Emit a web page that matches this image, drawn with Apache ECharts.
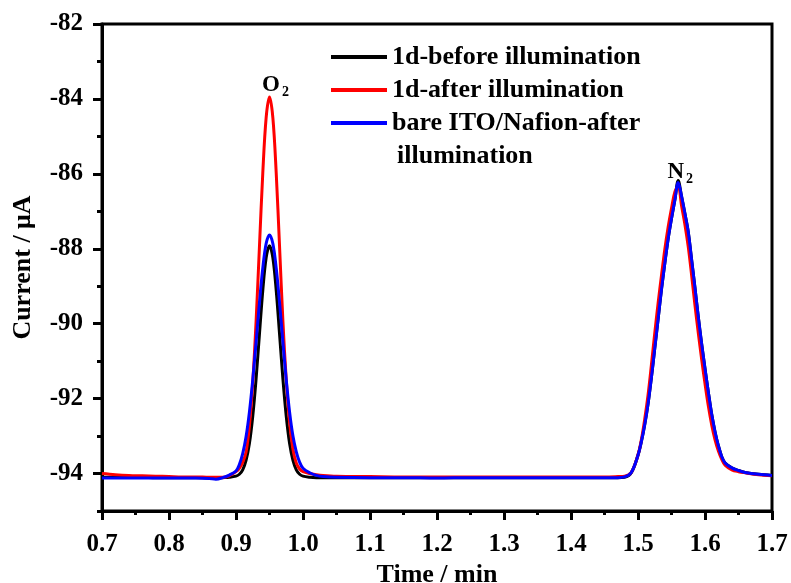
<!DOCTYPE html>
<html>
<head>
<meta charset="utf-8">
<script src="https://cdn.jsdelivr.net/npm/echarts@6/dist/echarts.min.js"></script>
<style>
  html, body { margin: 0; padding: 0; background: #fff; }
  #chart { width: 791px; height: 583px; }
</style>
</head>
<body>
<div id="chart"></div>
<script>
// Sampling times (min), shared by all three traces
const times = [
  0.70, 0.72, 0.74, 0.76, 0.78, 0.80, 0.82, 0.84, 0.86, 0.87, 0.88, 0.89,
  0.90, 0.905, 0.91, 0.915, 0.92, 0.925, 0.93, 0.935, 0.94, 0.945, 0.95,
  0.955, 0.96, 0.965, 0.97, 0.975, 0.98, 0.985, 0.99, 0.995, 1.00,
  1.01, 1.02, 1.03, 1.05, 1.10, 1.15, 1.20, 1.25, 1.30, 1.35, 1.40, 1.45,
  1.47, 1.48, 1.49,
  1.50, 1.505, 1.51, 1.515, 1.52, 1.525, 1.53, 1.535, 1.54, 1.545, 1.55,
  1.555, 1.56, 1.565, 1.57, 1.575, 1.58, 1.585, 1.59, 1.595, 1.60, 1.605,
  1.61, 1.615, 1.62, 1.625, 1.63,
  1.64, 1.65, 1.66, 1.68, 1.70
];

// Current (µA): 1d before illumination
const beforeIllum = [
  -94.10, -94.10, -94.10, -94.10, -94.11, -94.11, -94.11, -94.11, -94.12, -94.12, -94.11, -94.10,
  -94.07, -94.02, -93.90, -93.65, -93.20, -92.47, -91.47, -90.28, -89.11, -88.24, -87.92,
  -88.24, -89.11, -90.28, -91.47, -92.47, -93.20, -93.65, -93.90, -94.02, -94.07,
  -94.10, -94.11, -94.11, -94.11, -94.11, -94.11, -94.11, -94.11, -94.11, -94.11, -94.11, -94.11,
  -94.11, -94.10, -93.98,
  -93.51, -93.15, -92.70, -92.14, -91.44, -90.66, -89.88, -89.09, -88.39, -87.73, -87.19,
  -86.70, -86.18, -86.60, -87.06, -87.55, -88.29, -89.04, -89.82, -90.54, -91.20, -91.83,
  -92.42, -92.89, -93.26, -93.55, -93.72,
  -93.85, -93.92, -93.97, -94.02, -94.05
];

// Current (µA): 1d after illumination
const afterIllum = [
  -94.00, -94.03, -94.05, -94.06, -94.07, -94.08, -94.09, -94.09, -94.10, -94.10, -94.10, -94.06,
  -93.95, -93.86, -93.70, -93.43, -92.73, -91.57, -89.93, -87.94, -85.97, -84.50, -83.95,
  -84.50, -85.97, -87.94, -89.93, -91.50, -92.65, -93.35, -93.72, -93.88, -93.95,
  -94.00, -94.03, -94.05, -94.07, -94.08, -94.09, -94.09, -94.09, -94.09, -94.09, -94.09, -94.09,
  -94.08, -94.07, -93.97,
  -93.50, -93.10, -92.55, -91.90, -91.10, -90.25, -89.45, -88.72, -88.02, -87.42, -86.92,
  -86.48, -86.34, -86.85, -87.35, -87.95, -88.70, -89.50, -90.25, -90.95, -91.60, -92.20,
  -92.70, -93.10, -93.40, -93.62, -93.78,
  -93.90, -93.95, -93.98, -94.03, -94.06
];

// Current (µA): bare ITO/Nafion after illumination
const bareIto = [
  -94.12, -94.12, -94.12, -94.12, -94.12, -94.12, -94.12, -94.12, -94.13, -94.15, -94.11, -94.04,
  -93.93, -93.76, -93.47, -93.02, -92.36, -91.50, -90.49, -89.44, -88.51, -87.86, -87.63,
  -87.86, -88.51, -89.44, -90.49, -91.50, -92.36, -93.00, -93.42, -93.70, -93.86,
  -93.98, -94.05, -94.08, -94.10, -94.11, -94.11, -94.12, -94.11, -94.11, -94.11, -94.11, -94.11,
  -94.11, -94.09, -93.97,
  -93.51, -93.15, -92.70, -92.14, -91.44, -90.66, -89.88, -89.09, -88.39, -87.73, -87.19,
  -86.70, -86.23, -86.60, -87.06, -87.55, -88.29, -89.04, -89.82, -90.54, -91.20, -91.83,
  -92.42, -92.89, -93.26, -93.55, -93.72,
  -93.85, -93.92, -93.97, -94.02, -94.05
];

const seriesNames = ['1d-before illumination', '1d-after illumination', 'bare ITO/Nafion-after illumination'];
const seriesColors = ['#000000', '#ff0000', '#0000ff'];

// Axis ticks
const xTicks = [0.7, 0.8, 0.9, 1.0, 1.1, 1.2, 1.3, 1.4, 1.5, 1.6, 1.7];
const yTicks = [-94, -92, -90, -88, -86, -84, -82];
const yMinorTicks = [-95, -93, -91, -89, -87, -85, -83];

// Gas peak annotations: [label, time, current]
const peakO2 = ['O', 0.95, -83.95];
const peakN2 = ['N', 1.56, -86.23];

const FONT = 'Liberation Serif';

function pairs(ys) {
  return times.map((t, i) => [t, ys[i]]);
}

function peakLabel(p, dx, dy) {
  return {
    symbol: 'circle',
    symbolSize: 0,
    data: [{ coord: [p[1], p[2]] }],
    label: {
      show: true,
      position: 'top',
      distance: 4,
      offset: [dx, dy],
      formatter: '{m|' + p[0] + '}{s|2}',
      rich: {
        m: { fontFamily: FONT, fontWeight: 'bold', fontSize: 23, color: '#000' },
        s: { fontFamily: FONT, fontWeight: 'bold', fontSize: 14, color: '#000', padding: [14, 0, 0, 2] }
      }
    }
  };
}

const chart = echarts.init(document.getElementById('chart'), null, { renderer: 'canvas' });

const lineCommon = {
  type: 'line',
  showSymbol: false,
  symbol: 'none',
  smooth: 0.35,
  xAxisIndex: 0,
  yAxisIndex: 0,
  lineStyle: { width: 3 },
  z: 2
};

chart.setOption({
  backgroundColor: '#ffffff',
  animation: false,
  grid: {
    left: 102, right: 19, top: 24, bottom: 72,
    outerBoundsMode: 'none',
    containLabel: false,
    show: true, borderColor: '#000', borderWidth: 3
  },
  legend: {
    orient: 'vertical',
    left: 331,
    top: 44,
    padding: 0,
    itemWidth: 56,
    itemHeight: 4,
    itemGap: 7,
    icon: 'rect',
    formatter: function (name) {
      return name === seriesNames[2] ? 'bare ITO/Nafion-after' : name;
    },
    textStyle: { fontFamily: FONT, fontWeight: 'bold', fontSize: 26, color: '#000', lineHeight: 26 },
    data: seriesNames
  },
  graphic: [{
    type: 'text',
    left: 397,
    top: 143,
    style: { text: 'illumination', font: 'bold 26px "Liberation Serif"', fill: '#000' }
  }],
  xAxis: [{
    type: 'value',
    min: 0.7,
    max: 1.7,
    interval: 0.1,
    name: 'Time / min',
    nameLocation: 'middle',
    nameGap: 46,
    nameTextStyle: { fontFamily: FONT, fontWeight: 'bold', fontSize: 26, color: '#000' },
    axisLine: { show: true, onZero: false, lineStyle: { color: '#000', width: 3 } },
    axisTick: { show: true, inside: false, length: 9, lineStyle: { color: '#000', width: 3 }, customValues: xTicks },
    minorTick: { show: true, splitNumber: 2, length: 4, lineStyle: { color: '#000', width: 3 } },
    axisLabel: {
      customValues: xTicks,
      margin: 21,
      fontFamily: FONT, fontWeight: 'bold', fontSize: 25, color: '#000',
      formatter: v => v.toFixed(1)
    },
    splitLine: { show: false }
  }],
  yAxis: [{
    type: 'value',
    min: -95,
    max: -82,
    name: 'Current / \u03bcA',
    nameLocation: 'middle',
    nameGap: 66,
    nameRotate: 90,
    nameTextStyle: { fontFamily: FONT, fontWeight: 'bold', fontSize: 26, color: '#000' },
    axisLine: { show: true, onZero: false, lineStyle: { color: '#000', width: 3 } },
    axisTick: { show: true, inside: false, length: 9, lineStyle: { color: '#000', width: 3 }, customValues: yTicks },
    axisLabel: {
      customValues: yTicks,
      margin: 19,
      fontFamily: FONT, fontWeight: 'bold', fontSize: 25, color: '#000',
      formatter: v => String(Math.round(v))
    },
    splitLine: { show: false }
  }, {
    // minor ticks on the current axis
    type: 'value',
    min: -95,
    max: -82,
    position: 'left',
    axisLine: { show: false },
    axisTick: { show: true, inside: false, length: 5, lineStyle: { color: '#000', width: 3 }, customValues: yMinorTicks },
    axisLabel: { show: false },
    splitLine: { show: false }
  }],
  series: [
    Object.assign({}, lineCommon, {
      name: seriesNames[0],
      color: seriesColors[0],
      data: pairs(beforeIllum)
    }),
    Object.assign({}, lineCommon, {
      name: seriesNames[1],
      color: seriesColors[1],
      data: pairs(afterIllum),
      markPoint: peakLabel(peakO2, 6, 6)
    }),
    Object.assign({}, lineCommon, {
      name: seriesNames[2],
      color: seriesColors[2],
      data: pairs(bareIto),
      markPoint: peakLabel(peakN2, 2, 8)
    })
  ]
});
</script>
</body>
</html>
